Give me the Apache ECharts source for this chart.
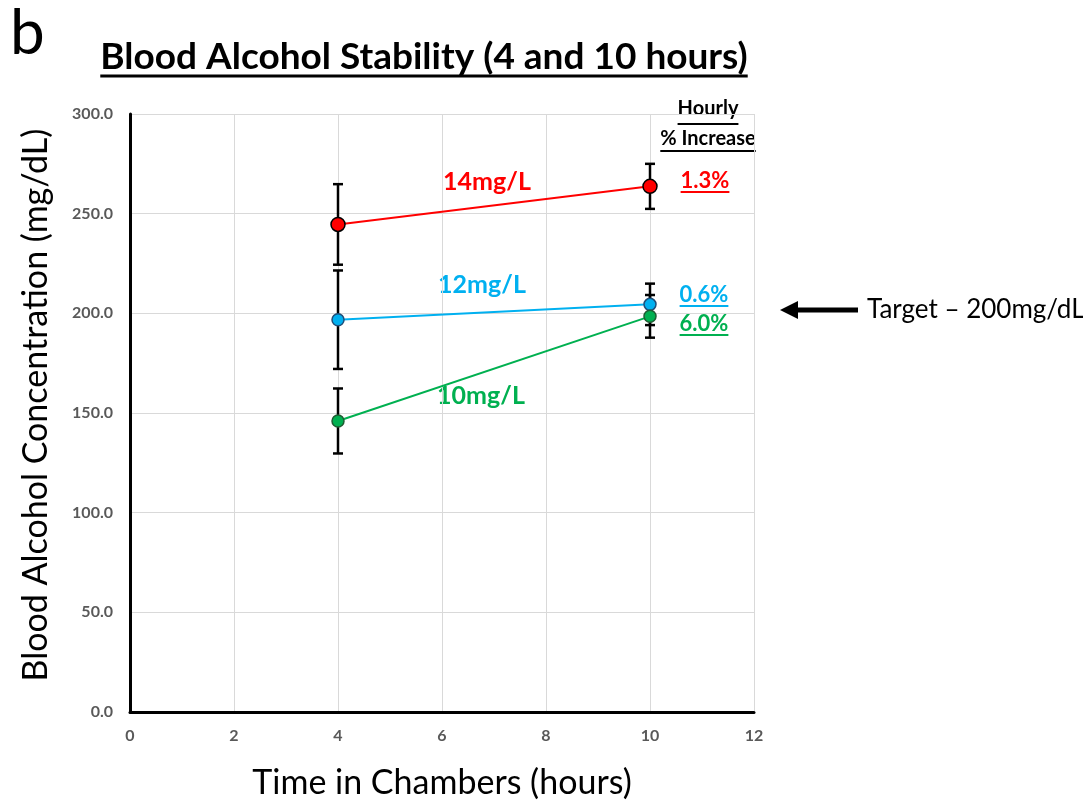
<!DOCTYPE html>
<html><head><meta charset="utf-8">
<script src="https://cdn.jsdelivr.net/npm/echarts@6/dist/echarts.min.js"></script>
<style>html,body{margin:0;padding:0;background:#fff}#c{width:1083px;height:804px}</style>
</head><body><div id="c"></div><script>
// ---- data ----
const hours = [4, 10];
const xTicks = [0, 2, 4, 6, 8, 10, 12];
const yTicks = [0, 50, 100, 150, 200, 250, 300];
const seriesNames = ['14mg/L', '12mg/L', '10mg/L'];
const conc14 = [244.6, 263.7];
const err14 = [20.2, 11.3];
const conc12 = [196.8, 204.5];
const err12 = [24.7, 10.4];
const conc10 = [146.0, 198.5];
const err10 = [16.3, 10.7];
const hourlyIncrease = ['1.3%', '0.6%', '6.0%'];
const colors = ['#ff0000', '#00b0f0', '#00b050'];
const borders = ['#000000', '#1f4e79', '#1e5c32'];

const FF = 'Lato, "Open Sans", sans-serif';
const mctx = document.createElement('canvas').getContext('2d');
function tw(text, font) { mctx.font = font; return mctx.measureText(text).width; }

function errSeries(vals, errs) {
  return {
    type: 'custom', z: 2, silent: true,
    data: hours.map((h, i) => [h, vals[i] - errs[i], vals[i] + errs[i]]),
    encode: { x: 0, y: [1, 2] },
    renderItem(params, api) {
      const lo = api.coord([api.value(0), api.value(1)]);
      const hi = api.coord([api.value(0), api.value(2)]);
      const w = 5;
      const style = { stroke: '#000', lineWidth: 2.5 };
      return { type: 'group', children: [
        { type: 'line', shape: { x1: lo[0], y1: lo[1], x2: hi[0], y2: hi[1] }, style },
        { type: 'line', shape: { x1: lo[0] - w, y1: lo[1], x2: lo[0] + w, y2: lo[1] }, style },
        { type: 'line', shape: { x1: hi[0] - w, y1: hi[1], x2: hi[0] + w, y2: hi[1] }, style }
      ]};
    }
  };
}
function lineSeries(name, vals, idx, size) {
  return {
    type: 'line', name, z: 3,
    data: hours.map((h, i) => [h, vals[i]]),
    symbol: 'circle', symbolSize: size,
    lineStyle: { color: colors[idx], width: 2 },
    itemStyle: { color: colors[idx], borderColor: borders[idx], borderWidth: 1.5 },
    emphasis: { disabled: true }
  };
}

function txt(text, x, y, font, fill, align, extra) {
  return Object.assign({ type: 'text', x, y, style: { text, font, fill, align: align || 'center', verticalAlign: 'middle' } }, extra || {});
}
function uTxt(text, cx, cy, font, fill, uy, lw) {
  const w = tw(text, font);
  return [
    txt(text, cx, cy, font, fill, 'center'),
    { type: 'line', shape: { x1: cx - w / 2, y1: uy, x2: cx + w / 2, y2: uy }, style: { stroke: fill, lineWidth: lw || 2 } }
  ];
}

const titleFont = 'bold 37px ' + FF;
const graphics = [
  txt('b', 10, 34, '62px ' + FF, '#000', 'left'),
  ...uTxt('Blood Alcohol Stability (4 and 10 hours)', 424, 57, titleFont, '#000', 76, 3),
  txt('Blood Alcohol Concentration (mg/dL)', 36, 405, '34px ' + FF, '#000', 'center', { rotation: Math.PI / 2 }),
  txt('Time in Chambers (hours)', 442, 783, '34px ' + FF, '#000', 'center'),
  ...uTxt('Hourly', 708, 109, 'bold 20px ' + FF, '#000', 124, 2),
  ...uTxt('% Increase', 708, 139, 'bold 20px ' + FF, '#000', 151, 2),
  ...uTxt(hourlyIncrease[0], 705, 181, 'bold 22px ' + FF, colors[0], 192, 2),
  ...uTxt(hourlyIncrease[1], 704, 295, 'bold 22px ' + FF, colors[1], 306, 2),
  ...uTxt(hourlyIncrease[2], 704, 324, 'bold 22px ' + FF, colors[2], 335, 2),
  txt(seriesNames[0], 487, 182, 'bold 25px ' + FF, colors[0]),
  txt(seriesNames[1], 482, 285, 'bold 25px ' + FF, colors[1]),
  txt(seriesNames[2], 481, 396, 'bold 25px ' + FF, colors[2]),
  { type: 'line', shape: { x1: 792, y1: 310, x2: 858, y2: 310 }, style: { stroke: '#000', lineWidth: 5 } },
  { type: 'polygon', shape: { points: [[780, 310], [798, 301], [798, 319]] }, style: { fill: '#000' } },
  txt('Target \u2013 200mg/dL', 867, 310, '26px ' + FF, '#000', 'left')
];

const chart = echarts.init(document.getElementById('c'), null, { renderer: 'canvas' });
chart.setOption({
  animation: false,
  backgroundColor: '#fff',
  grid: { left: 130, right: 329, top: 114, bottom: 92, containLabel: false },
  xAxis: {
    type: 'value', min: xTicks[0], max: xTicks[xTicks.length - 1], interval: xTicks[1] - xTicks[0],
    axisLine: { show: true, onZero: false, lineStyle: { color: '#000', width: 3 } },
    axisTick: { show: false },
    splitLine: { show: true, lineStyle: { color: '#d9d9d9', width: 1 } },
    axisLabel: { color: '#595959', fontSize: 16, fontWeight: 'bold', fontFamily: FF, margin: 16 }
  },
  yAxis: {
    type: 'value', min: yTicks[0], max: yTicks[yTicks.length - 1], interval: yTicks[1] - yTicks[0],
    axisLine: { show: true, onZero: false, lineStyle: { color: '#000', width: 3 } },
    axisTick: { show: false },
    splitLine: { show: true, lineStyle: { color: '#d9d9d9', width: 1 } },
    axisLabel: { color: '#595959', fontSize: 16, fontWeight: 'bold', fontFamily: FF, margin: 17,
      formatter: v => v.toFixed(1) }
  },
  series: [
    errSeries(conc14, err14), errSeries(conc12, err12), errSeries(conc10, err10),
    lineSeries(seriesNames[0], conc14, 0, 14),
    lineSeries(seriesNames[1], conc12, 1, 12),
    lineSeries(seriesNames[2], conc10, 2, 12)
  ],
  graphic: graphics
});
</script></body></html>
